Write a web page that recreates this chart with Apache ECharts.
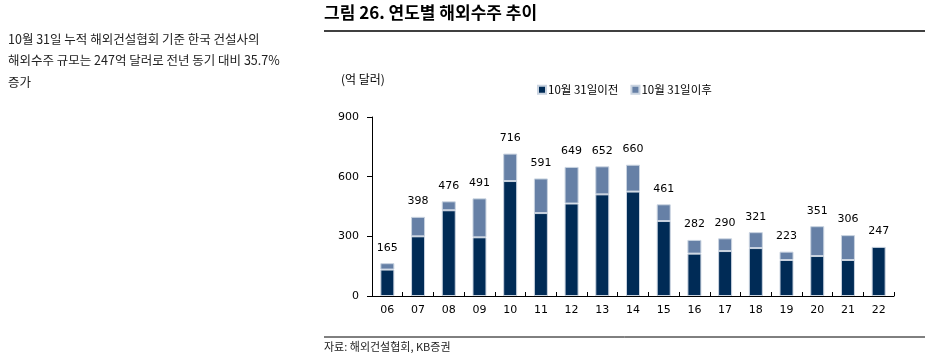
<!DOCTYPE html>
<html>
<head>
<meta charset="utf-8">
<script src="https://cdn.jsdelivr.net/npm/echarts@6/dist/echarts.min.js"></script>
<style>
html,body{margin:0;padding:0;background:#fff;}
#c{width:930px;height:358px;}
</style>
</head>
<body>
<div id="c"></div>
<script>
const categories = ['06','07','08','09','10','11','12','13','14','15','16','17','18','19','20','21','22'];
const beforeOct31 = [133, 300, 431, 295, 578, 417, 465, 511, 525, 377, 213, 226, 241, 181, 201, 181, 247];
const totals = [165, 398, 476, 491, 716, 591, 649, 652, 660, 461, 282, 290, 321, 223, 351, 306, 247];
const afterOct31 = totals.map((t, i) => t - beforeOct31[i]);
const yTicks = [0, 300, 600, 900];
const seriesNames = ['10월 31일이전', '10월 31일이후'];

const numFont = 'DejaVu Sans';
const krFont = '"Noto Sans CJK KR", sans-serif';

const chart = echarts.init(document.getElementById('c'), null, {renderer: 'canvas'});
chart.setOption({
  animation: false,
  backgroundColor: '#fff',
  grid: {left: 372, right: 36, top: 117, bottom: 62, containLabel: false},
  legend: {
    data: seriesNames,
    left: 532, top: 79,
    itemWidth: 8, itemHeight: 8, itemGap: 12,
    icon: 'rect',
    textStyle: {fontFamily: krFont, fontSize: 11.5, color: '#000', padding: [0,0,0,-3]}
  },
  xAxis: {
    type: 'category',
    data: categories,
    axisLine: {lineStyle: {color: '#000', width: 1}},
    axisTick: {show: true, inside: true, length: 4, lineStyle: {color: '#000'}},
    axisLabel: {fontFamily: numFont, fontSize: 11, color: '#000', margin: 9}
  },
  yAxis: {
    type: 'value',
    min: 0, max: 900, interval: 300,
    splitLine: {show: false},
    axisLine: {show: true, lineStyle: {color: '#000', width: 1}},
    axisTick: {show: true, length: 5, lineStyle: {color: '#000'}},
    axisLabel: {fontFamily: numFont, fontSize: 11, color: '#000', margin: 13,
      formatter: v => yTicks.includes(v) ? String(v) : ''}
  },
  series: [
    {
      name: seriesNames[0], type: 'bar', stack: 'a', barWidth: 14,
      data: beforeOct31,
      itemStyle: {color: '#002b56', borderColor: '#c9d3e0', borderWidth: 1}
    },
    {
      name: seriesNames[1], type: 'bar', stack: 'a', barWidth: 14,
      data: afterOct31.map(v => v === 0 ? {value: 0, itemStyle: {borderWidth: 0}} : v),
      itemStyle: {color: '#6680a6', borderColor: '#c9d3e0', borderWidth: 1},
      label: {
        show: true, position: 'top', distance: 10,
        fontFamily: numFont, fontSize: 11, color: '#000',
        formatter: p => String(totals[p.dataIndex])
      }
    }
  ],
  graphic: [
    {type: 'text', left: 324, top: 4, style: {text: '그림 26. 연도별 해외수주 추이', font: 'bold 17px "Noto Sans CJK KR"', fill: '#000'}},
    {type: 'line', shape: {x1: 324, y1: 31, x2: 925, y2: 31}, style: {stroke: '#000', lineWidth: 1.5}},
    {type: 'line', shape: {x1: 324, y1: 337, x2: 925, y2: 337}, style: {stroke: '#000', lineWidth: 1}},
    {type: 'text', left: 324, top: 341, style: {text: '자료: 해외건설협회, KB증권', font: '11px "Noto Sans CJK KR"', fill: '#222'}},
    {type: 'text', left: 341, top: 73, style: {text: '(억 달러)', font: '12px "Noto Sans CJK KR"', fill: '#000'}},
    {type: 'text', left: 8, top: 33, style: {text: '10월 31일 누적 해외건설협회 기준 한국 건설사의', font: '12.5px "Noto Sans CJK KR"', fill: '#222'}},
    {type: 'text', left: 8, top: 54, style: {text: '해외수주 규모는 247억 달러로 전년 동기 대비 35.7%', font: '12.5px "Noto Sans CJK KR"', fill: '#222'}},
    {type: 'text', left: 8, top: 76, style: {text: '증가', font: '12.5px "Noto Sans CJK KR"', fill: '#222'}}
  ]
});
</script>
</body>
</html>
